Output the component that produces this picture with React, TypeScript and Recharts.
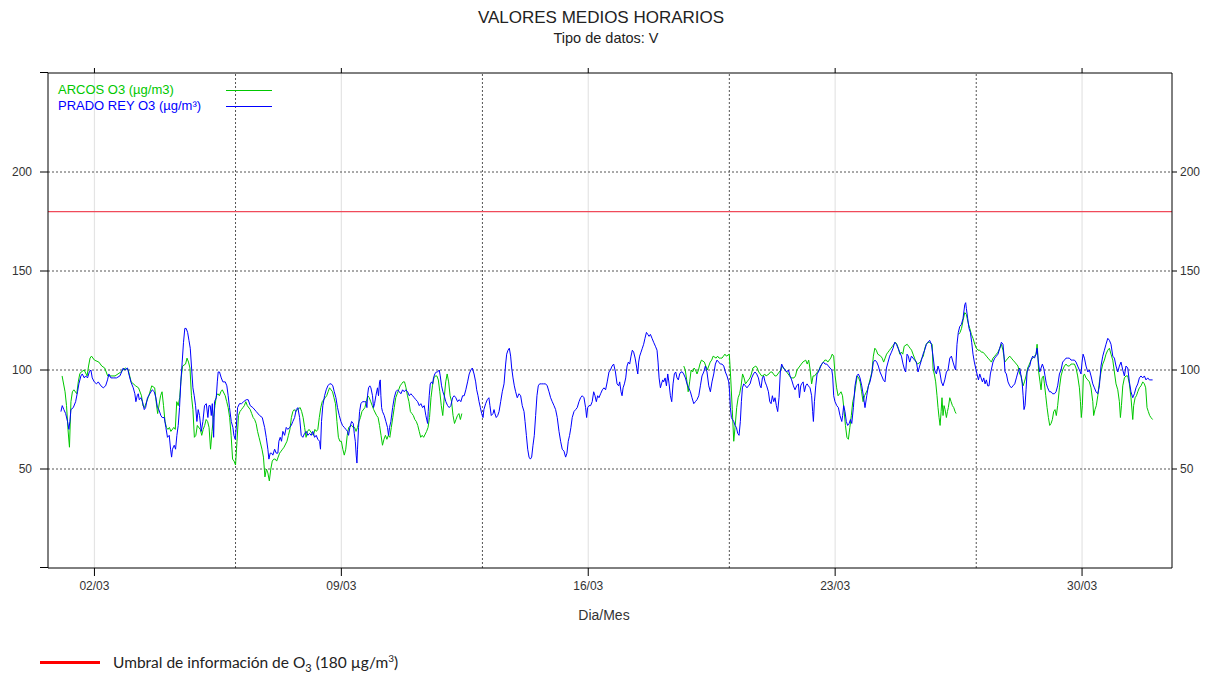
import { ComposedChart, Line, XAxis, YAxis, ReferenceLine } from 'recharts'

// x values are hours counted from 01/03 00:00
const dayTicks = [24, 192, 360, 528, 696]
const dayLabels = ['02/03', '09/03', '16/03', '23/03', '30/03']
const weekBreaks = [120, 288, 456, 624]
const levelTicks = [50, 100, 150, 200]
const infoThreshold = 180

// ARCOS O3 (µg/m3), null = no data
const arcosO3: [number, number | null][] = [
  [2,97],[4,89],[5,82],[6,70],[7,61],[8,84],[9,89],[10,90],[12,88],[13,94],[14,98],[15,99],[17,100],[19,97],[20,102],[21,106],[22,107],[24,105],[27,104],[29,102],[31,101],[33,97],[36,97],[38,97],[40,98],[42,99],[45,101],[47,100],[49,94],[52,92],[54,91],[56,87],[57,82],[58,81],[61,87],[63,92],[65,91],[66,84],[67,78],[69,87],[70,89],[71,82],[72,74],[73,71],[74,70],[75,71],[76,69],[78,71],[79,70],[80,84],[81,82],[82,86],[83,96],[84,102],[86,103],[87,106],[88,104],[89,101],[90,87],[91,80],[92,66],[93,67],[94,72],[96,70],[97,67],[98,70],[99,72],[100,75],[101,74],[102,71],[103,60],[104,69],[105,76],[106,82],[107,87],[108,88],[109,87],[110,89],[111,90],[113,87],[114,84],[115,81],[116,76],[117,67],[118,55],[119,54],[120,52],[121,64],[122,77],[123,79],[124,80],[125,81],[126,82],[127,84],[128,82],[130,80],[131,78],[132,76],[133,75],[134,73],[135,69],[136,66],[138,60],[139,56],[140,46],[141,50],[142,48],[143,44],[144,50],[145,54],[146,55],[147,55],[148,54],[149,56],[150,58],[151,59],[152,60],[153,61],[155,64],[156,67],[157,70],[158,76],[159,79],[160,80],[161,79],[162,80],[164,81],[165,79],[166,76],[167,71],[168,66],[169,69],[170,70],[172,68],[173,67],[174,70],[175,69],[176,70],[177,76],[178,81],[179,84],[181,86],[182,87],[183,89],[184,91],[185,90],[186,89],[187,86],[188,83],[189,74],[190,66],[191,64],[192,64],[193,60],[194,57],[195,60],[196,67],[197,71],[199,72],[200,71],[201,71],[202,69],[203,71],[204,74],[205,76],[206,79],[208,81],[209,84],[210,87],[211,86],[212,84],[213,82],[214,80],[216,77],[217,76],[218,72],[219,67],[220,62],[221,65],[222,67],[223,65],[224,67],[225,66],[226,71],[227,76],[228,81],[229,86],[230,88],[231,90],[232,92],[233,93],[234,94],[235,94],[236,91],[237,87],[238,84],[239,79],[240,78],[241,77],[242,75],[243,74],[244,72],[245,69],[246,66],[247,67],[248,66],[250,69],[251,71],[252,76],[253,86],[254,92],[255,96],[256,97],[257,97],[258,95],[259,89],[260,82],[261,77],[262,86],[263,94],[264,98],[265,94],[266,87],[267,84],[268,77],[269,73],[270,75],[271,77],[272,78],[273,75],[274,78],
  [275,null],
  [425,102],[426,100],[427,95],[428,89],[429,94],[430,100],[431,99],[432,101],[433,100],[434,98],[435,100],[436,103],[437,105],[439,104],[440,102],[441,100],[442,102],[443,104],[444,105],[445,107],[447,106],[448,107],[449,106],[450,106],[451,106],[452,107],[453,108],[454,107],[456,108],[457,95],[458,80],[459,64],[460,72],[461,81],[462,86],[463,88],[464,92],[465,98],[466,96],[467,93],[468,94],[469,95],[470,96],[471,98],[472,101],[474,102],[475,101],[476,99],[477,98],[478,97],[479,97],[480,98],[481,97],[483,98],[484,99],[485,99],[486,98],[487,97],[488,97],[489,98],[491,100],[492,102],[493,101],[494,100],[495,99],[496,98],[497,97],[498,96],[500,96],[501,97],[502,100],[503,101],[504,102],[505,103],[506,104],[508,105],[509,103],[510,105],[511,100],[512,93],[513,97],[514,97],[515,98],[516,99],[517,100],[518,102],[519,103],[520,104],[521,105],[522,105],[523,104],[525,106],[526,108],[527,107],[528,97],[529,91],[530,87],[531,88],[532,89],[533,87],[534,80],[535,72],[536,66],[537,65],[538,71],[539,77],[540,84],[541,87],[542,92],[543,97],[544,96],[545,94],[546,89],[547,84],[548,87],[550,90],[551,93],[552,96],[553,99],[554,107],[555,111],[556,110],[557,108],[559,107],[560,106],[561,104],[562,106],[563,108],[564,109],[565,110],[566,111],[567,112],[569,114],[570,113],[571,111],[572,108],[573,109],[574,108],[575,112],[577,113],[578,112],[579,111],[580,110],[581,108],[582,106],[583,104],[584,103],[586,104],[587,106],[588,107],[589,111],[590,113],[591,114],[592,114],[594,113],[594.6,101],[595.7,97],[596.4,94],[597.3,87],[598,81],[598.7,76],[599.4,72],[600.1,79],[600.7,86],[601.4,77],[602.1,82],[602.8,80],[603.7,76],[604.4,79],[605,81],[606,86],[606.9,84],[607.8,82],[608.7,81],[609.6,79],[610.3,78],
  [611,null],
  [612,118],[613,119],[614,121],[615,125],[616.2,129],[617.3,128],[618.4,124],[619.6,121],[620.7,118],[621.8,116],[623,113],[624.1,111],[625.2,110],[626.4,110],[627.5,109],[628.6,109],[629.8,108],[630.9,107],[632,106],[633.2,105],[634.3,104],[635.4,106],[636.6,107],[637.7,108],[638.8,109],[640,111],[641.1,113],[642.2,110],[643.4,104],[644.5,105],[645.6,106],[646.8,107],[647.9,106],[649,105],[650.2,104],[651.3,103],[652.4,102],[653.6,98],[654.6,97],[655.2,94],[655.9,92],[656.8,94],[657.9,97],[659,101],[660.2,103],[661.3,105],[662.4,106],[663.6,107],[664.7,108],[665.4,113],[665.8,109],[666.5,99],[667.4,94],[668.1,90],[668.8,96],[669.7,97],[670.4,93],[671.3,87],[672.2,81],[673.1,76],[674,72],[674.9,73],[675.8,75],[676.7,79],[677.6,80],[678.5,77],[679.4,82],[680.6,91],[681.7,97],[682.8,100],[684,102],[685.1,103],[686.2,102],[687.4,102],[688.5,103],[689.6,103],[690.8,103],[691.9,101],[693,97],[694.2,91],[694.9,84],[695.5,76],[696.2,82],[696.9,97],[697.6,98],[698.7,96],[699.9,95],[701,94],[702.1,91],[703.3,84],[703.9,77],[704.8,80],[705.7,82],[706.7,87],[707.8,94],[708.9,99],[710.1,103],[711.2,105],[712.3,108],[713.5,110],[714.6,111],[715.7,108],[716.9,105],[718,99],[719.1,93],[720.3,90],[721.4,84],[722.1,76],[722.8,82],[723.7,92],[724.8,96],[725.9,97],[727.1,97],[728.2,93],[729.3,86],[730.5,75],[731.1,82],[732.1,86],[733,87],[733.9,89],[735,91],[736.1,92],[737.3,94],[738.4,93],[739.3,91],[740.2,81],[741.1,79],[742,77],[742.9,76],[744,75],
]

// PRADO REY O3 (µg/m³)
const pradoReyO3: [number, number][] = [
  [1.2,79],[2.1,82],[3.2,80],[4.4,78],[5.7,74],[6.6,70],[7.3,74],[8,80],[9.6,81],[11.2,84],[12.5,89],[13.4,93],[14.8,97],[15.7,98],[17.1,96],[18,97],[19.3,96],[20.5,99],[21.6,100],[22.5,96],[23.9,94],[25.4,93],[26.6,94],[28.4,92],[30,91],[31.6,92],[32.9,95],[33.8,98],[35.2,96],[36.8,96],[39,96],[41.3,97],[42.5,99],[43.6,101],[44.7,100],[46.5,101],[47.4,98],[48.8,94],[50.4,91],[51.5,88],[52.2,84],[53.1,87],[53.8,88],[54.5,85],[55.6,86],[56.7,84],[57.9,80],[58.8,81],[60.1,86],[61.7,88],[63.3,90],[64.7,89],[65.8,86],[66.9,81],[67.8,80],[69.2,77],[70.1,76],[71.5,76],[72.6,71],[73.7,66],[74.9,67],[75.8,60],[76.5,56],[77.1,60],[78.3,62],[79.2,60],[80.1,67],[81,72],[81.9,81],[82.8,94],[83.7,104],[84.6,114],[85.5,121],[86.4,121],[87.4,119],[88.3,115],[89.2,111],[90.1,101],[91,91],[91.9,87],[92.8,82],[93.7,74],[94.6,80],[95.5,77],[96.7,69],[97.8,74],[98.9,82],[100.1,83],[101.2,76],[101.9,82],[102.8,82],[103.5,77],[104.2,83],[105.1,66],[105.7,84],[106.9,86],[107.6,94],[108.2,99],[109.1,99],[110.3,96],[111.4,94],[113,94],[114.1,92],[115,87],[115.9,81],[117.1,74],[118.2,71],[118.9,67],[119.8,65],[120.5,71],[121.4,81],[122.7,83],[124.1,83],[125.5,84],[127.3,85],[128.6,85],[130,82],[131.8,81],[134.1,79],[136.4,77],[138.2,76],[139.8,71],[140.9,66],[142,60],[142.7,55],[143.6,58],[144.5,58],[145.4,57],[146.6,60],[147.7,58],[148.8,58],[149.5,64],[150.4,66],[151.3,64],[152.2,69],[153.4,67],[154.5,71],[155.6,70],[156.8,71],[157.9,72],[159,74],[160.2,76],[161.3,80],[162.4,81],[163.6,76],[164.7,67],[165.8,66],[167,68],[168.1,69],[169.2,67],[170.4,68],[171.5,67],[172.6,69],[173.8,66],[174.9,67],[176,65],[177.2,64],[177.8,60],[178.5,74],[179.4,82],[180.6,87],[181.7,90],[182.8,92],[184,93],[185.1,93],[186.2,92],[187.2,89],[188.3,86],[189.4,81],[190.6,77],[191.7,74],[192.8,72],[194,71],[195.1,70],[196.2,69],[196.9,67],[197.8,71],[199,74],[200.1,73],[200.8,68],[201.5,64],[202.1,57],[202.6,53],[203,60],[203.7,71],[204.4,79],[205.3,83],[206.4,84],[207.6,84],[208.7,84],[209.4,81],[209.8,87],[210.5,91],[211.4,92],[212.1,91],[213.2,87],[213.9,81],[214.6,83],[215.5,87],[216.6,91],[217.3,87],[218,94],[218.5,95],[218.9,87],[219.4,81],[220,79],[221.2,77],[222.3,74],[223.4,71],[224.1,67],[224.8,71],[225.7,74],[226.9,81],[228,86],[229.1,89],[230.3,90],[231.4,89],[232.5,88],[233.7,90],[234.8,89],[235.9,90],[237.1,89],[238.2,87],[239.3,88],[240.5,87],[241.6,86],[242.7,85],[243.9,84],[245,82],[246.1,83],[247.3,81],[248.4,82],[249.5,77],[250.7,73],[251.1,79],[251.8,87],[252.5,93],[253.4,94],[254.1,93],[254.7,96],[255.6,98],[256.6,99],[257.5,99],[258.6,100],[259.3,97],[260.2,92],[261.1,89],[262,87],[263.1,84],[264.3,82],[265.4,81],[266.5,82],[267.7,86],[268.8,87],[269.9,86],[271.1,84],[272.2,85],[273.3,84],[274.5,87],[275.6,87],[276.7,90],[277.9,94],[279,98],[280.1,100],
  [281.1,101],[282.3,98],[283.4,94],[284.1,90],[285,87],[285.7,84],[286.6,81],[287.5,78],[288.4,76],[289,80],[290.2,83],[291.3,85],[292.4,86],[293.1,82],[294,77],[295.2,78],[295.9,80],[296.5,78],[297.4,76],[298.4,77],[299.3,79],[300.4,84],[301.5,89],[302.7,93],[303.8,103],[304.5,108],[305.4,110],[306.3,111],[307.2,107],[307.9,101],[308.8,96],[309.7,92],[310.6,89],[311.7,86],[312.9,88],[314,87],[315.1,82],[316.3,79],[317,74],[317.9,67],[318.8,60],[319.7,56],[320.6,55],[321.5,56],[322.4,62],[323.3,67],[324.2,77],[325.1,87],[326,92],[326.9,93],[328.3,93],[329.6,93],[331,93],[332.1,92],[333.3,89],[334.4,86],[335.5,84],[336.7,82],[337.8,80],[338.9,76],[340.1,69],[341.2,64],[342.3,60],[343.5,59],[344.6,56],[345.5,58],[346.4,64],[347.3,67],[348.2,71],[349.1,76],[350.3,79],[351.4,80],[352.5,81],[353.7,84],[354.8,86],[355.9,87],[357.1,86],[358.2,81],[358.9,76],[359.6,81],[360.5,82],[361.6,82],[362.7,84],[363.7,89],[364.6,87],[365.5,84],[366.4,87],[367.3,86],[368.4,88],[369.6,90],[370.7,91],[371.8,90],[372.9,94],[374.1,99],[375.1,100],[376.2,102],[377.3,103],[378.5,99],[379.6,93],[380.7,92],[381.4,94],[382.3,89],[383,87],[383.7,91],[384.6,93],[385.5,96],[386.4,102],[387.3,104],[388.2,103],[389.1,107],[390,110],[390.9,109],[391.9,106],[392.8,102],[393.7,98],[394.3,104],[395,107],[395.9,109],[396.8,111],[397.7,113],[398.6,116],[399.6,119],[400.5,118],[401.4,117],[402.3,118],[403.4,116],[404.5,114],[405.7,112],[406.8,110],[407.5,104],[408.2,96],[409.1,91],[409.8,93],[410.7,95],[411.3,94],[412.3,96],[413.2,92],[414.1,98],[415,93],[415.9,87],[416.8,84],[417.7,93],[418.6,98],[419.5,99],[420.4,96],[421.3,95],[422.2,98],[423.1,99],[424,99],[424.9,98],[426.1,96],[427.2,93],[428.4,91],[429.5,89],[430.6,86],[431.8,83],[432.9,84],[434,85],[435.2,87],[436.3,92],[437.4,97],[438.6,99],[439.7,102],[440.8,99],[442,92],[443.1,89],[444.2,94],[445.4,98],[446.5,103],[447.6,105],[448.8,104],[449.9,103],[451,103],[452.2,102],[453.3,99],[454.4,97],[455.6,94],[456.2,89],[456.7,81],[457.4,76],[458.1,75],[459,74],[459.9,72],[460.8,71],[461.7,68],[462.6,67],[463.5,74],[464.2,84],[464.9,91],[465.8,93],[466.9,92],[468,91],
  [469,92],[470.1,93],[471.2,96],[472.4,98],[473.5,99],[474.6,98],[475.8,96],[476.9,92],[477.6,91],[478.5,96],[479.4,97],[480.3,94],[481.4,92],[482.6,89],[483.5,84],[484.4,83],[485.3,87],[486.2,84],[487.1,86],[488,82],[488.9,79],[489.8,86],[490.7,99],[491.6,103],[492.8,101],[493.9,100],[495,99],[496.2,100],[497.3,97],[498.4,95],[499.6,92],[500.7,90],[501.8,92],[503,93],[503.7,86],[504.6,92],[505.2,93],[506.2,94],[507.1,89],[508,92],[508.9,93],[509.8,92],[510.9,91],[512,87],[512.7,79],[513.2,74],[513.9,84],[514.8,92],[515.7,98],[516.6,99],[517.7,101],[518.9,103],[520,104],[521.1,103],[522.3,103],[523.4,102],[524.5,101],[525.7,100],[526.3,97],[527,87],[527.9,84],[529.1,82],[530.2,81],[531.3,77],[532.5,74],[533.1,77],[533.8,82],[534.7,79],[535.6,74],[536.5,72],[537.5,73],[538.4,75],[539.3,73],[540.4,81],[541.5,92],[542.7,97],[543.8,98],[544.9,96],[546.1,92],[547.2,87],[548.3,81],[549.5,87],[550.6,92],[551.7,94],[552.9,98],[554,104],[555.1,105],[556.3,104],[557.4,102],[558.5,99],[559.7,97],[560.8,95],[561.9,94],
  [562.9,101],[564,104],[565.1,107],[566.3,109],[567.4,111],[568.5,114],[569.7,113],[570.8,111],[571.9,109],[573.1,107],[574.2,103],[575.3,100],[576,99],[576.9,108],[577.8,107],[578.7,104],[579.9,107],[581,106],[582.1,105],[583.3,104],[584.4,99],[585.5,102],[586.7,105],[587.8,108],[588.9,110],[590.1,113],[591.2,114],[592.3,115],[593.5,113],[594.6,107],[595.7,100],[596.9,98],[598,102],[599.2,99],[600.3,94],[601.4,92],[602.6,95],[603.7,99],[604.8,100],[606,106],[607.1,107],[608.2,104],[609.4,101],[610,100],[610.9,113],[611.8,119],[612.8,122],[613.9,123],[615,126],[616.2,133],[616.8,134],[617.3,131],[618.2,126],[619.1,121],[620,119],[620.9,114],[621.8,108],[622.7,104],[623.6,101],[624.5,98],[625.5,95],[626.4,98],[627.3,96],[628.2,94],[629.1,96],[630,93],[630.9,95],[631.8,92],[632.7,92],[633.6,98],[634.5,101],[635.4,104],[636.6,106],[637.7,107],[638.8,108],[640,111],[641.1,114],[642.2,113],[642.9,107],[643.6,99],[644.5,98],[645.6,94],[646.8,92],[647.9,91],[649,92],[650.2,93],[651.3,96],[652.4,99],[653.6,101],[654.7,96],
  [655.2,94],[655.9,87],[656.5,80],[657.2,82],[657.9,90],[658.6,99],[659.5,101],[660.4,102],[661.3,105],[662.4,107],[663.6,106],[664.7,108],[665.4,111],[666.3,104],[667.2,99],[668.1,101],[669,103],[669.9,101],[670.8,97],[671.7,93],[672.6,91],[673.8,89],[674.9,89],[676,88],[677.2,88],[678.3,89],[679.4,92],[680.6,98],[681.7,100],[682.8,104],[684,105],[685.1,106],[686.2,106],[687.4,106],[688.5,105],[689.6,105],[690.8,105],[691.9,104],[693,102],[694.2,100],[695.3,98],[696,104],[696.7,108],[697.6,106],[698.7,102],[699.9,99],[701,100],[702.1,97],[703.3,93],[704.4,91],[705.5,89],[706.7,88],[707.8,92],[708.9,102],[710.1,107],[711.2,110],[712.3,113],[713.5,116],[714.6,115],[715.7,113],[716.9,107],[718,106],[719.1,102],[720.3,99],[721.4,102],[722.5,104],[723.7,100],[724.8,97],[725.9,102],[727.1,101],[728.2,94],[729.3,89],[730.5,86],[731.6,88],[732.7,91],[733.9,93],[735,96],[736.1,97],[737.3,96],[738.4,97],[739.5,95],[740.7,96],[741.8,95],[742.9,95],[744,95],
]

const toRows = (pts: [number, number | null][]) => pts.map(([h, v]) => ({ h, v }))

const GREEN = '#00c800'
const BLUE = '#0000ff'
const FONT = '"Liberation Sans", Arial, sans-serif'
const X_DOMAIN: [number, number] = [-7.6, 757.2]
const Y_DOMAIN: [number, number] = [0, 250]
const tickStyle = { fontSize: 12, fill: '#333', fontFamily: FONT }

export default function App() {
  return (
    <div style={{ position: 'absolute', left: 0, top: 0, width: 1211, height: 680, background: '#fff', fontFamily: FONT }}>
      <div style={{ position: 'absolute', left: 0, width: 1202, top: 8, textAlign: 'center', fontSize: 17, color: '#222' }}>
        VALORES MEDIOS HORARIOS
      </div>
      <div style={{ position: 'absolute', left: 0, width: 1212, top: 30, textAlign: 'center', fontSize: 14.5, color: '#222' }}>
        Tipo de datos: V
      </div>

      <ComposedChart width={1211} height={680} margin={{ top: 68, right: 0, bottom: 82, left: 8 }}>
        <XAxis
          xAxisId="top"
          orientation="top"
          type="number"
          dataKey="h"
          domain={X_DOMAIN}
          allowDataOverflow
          ticks={dayTicks}
          tickFormatter={() => ''}
          height={5}
          tickSize={5}
          axisLine={{ stroke: '#000' }}
          tickLine={{ stroke: '#000' }}
        />
        <XAxis
          type="number"
          dataKey="h"
          domain={X_DOMAIN}
          allowDataOverflow
          ticks={dayTicks}
          tickFormatter={(v: number) => dayLabels[dayTicks.indexOf(v)] ?? ''}
          height={30}
          tickSize={8}
          tickMargin={5}
          tick={tickStyle}
          axisLine={{ stroke: '#000' }}
          tickLine={{ stroke: '#000' }}
        />
        <YAxis
          type="number"
          domain={Y_DOMAIN}
          allowDataOverflow
          ticks={levelTicks}
          width={40}
          tickSize={8}
          tickMargin={8}
          tick={tickStyle}
          axisLine={{ stroke: '#000' }}
          tickLine={{ stroke: '#000' }}
        />
        <YAxis
          yAxisId="right"
          orientation="right"
          type="number"
          domain={Y_DOMAIN}
          allowDataOverflow
          ticks={levelTicks}
          width={39}
          tickSize={5}
          tickMargin={3}
          tick={tickStyle}
          axisLine={{ stroke: '#000' }}
          tickLine={{ stroke: '#000' }}
        />

        {dayTicks.map(d => (
          <ReferenceLine key={`d${d}`} x={d} stroke="#e4e4e4" strokeWidth={1.2} />
        ))}
        {weekBreaks.map(d => (
          <ReferenceLine key={`w${d}`} x={d} stroke="#555" strokeDasharray="2 2" />
        ))}
        {levelTicks.map(v => (
          <ReferenceLine key={`l${v}`} y={v} stroke="#555" strokeDasharray="2 2" />
        ))}
        {/* keeps the right axis bound to the same scale */}
        <ReferenceLine yAxisId="right" y={infoThreshold} stroke="#f04a5a" strokeWidth={1.2} />

        <Line
          data={toRows(arcosO3)}
          dataKey="v"
          type="linear"
          stroke={GREEN}
          strokeWidth={1}
          dot={false}
          activeDot={false}
          isAnimationActive={false}
        />
        <Line
          data={toRows(pradoReyO3)}
          dataKey="v"
          type="linear"
          stroke={BLUE}
          strokeWidth={1}
          dot={false}
          activeDot={false}
          isAnimationActive={false}
        />
      </ComposedChart>

      {/* legend inside the plot */}
      <div style={{ position: 'absolute', left: 58, top: 82, fontSize: 13, color: GREEN }}>ARCOS O3 (µg/m3)</div>
      <div style={{ position: 'absolute', left: 226, top: 90, width: 46, height: 1, background: GREEN }} />
      <div style={{ position: 'absolute', left: 58, top: 98, fontSize: 13, color: BLUE }}>PRADO REY O3 (µg/m³)</div>
      <div style={{ position: 'absolute', left: 226, top: 106, width: 46, height: 1, background: BLUE }} />

      {/* small overhang of the frame's horizontal lines, as in the original */}
      <div style={{ position: 'absolute', left: 40, top: 567, width: 8, height: 1, background: '#000' }} />
      <div style={{ position: 'absolute', left: 40, top: 72, width: 8, height: 1, background: '#000' }} />

      <div style={{ position: 'absolute', left: 0, width: 1208, top: 607, textAlign: 'center', fontSize: 14, color: '#333' }}>
        Dia/Mes
      </div>

      <div style={{ position: 'absolute', left: 40, top: 661, width: 60, height: 3, background: '#ff0000' }} />
      <div style={{ position: 'absolute', left: 113, top: 652, fontSize: 15.5, color: '#222', fontFamily: 'Lato, "Noto Sans", sans-serif' }}>
        Umbral de información de O<sub style={{ fontSize: 11 }}>3</sub> (180 µg/m<sup style={{ fontSize: 10 }}>3</sup>)
      </div>
    </div>
  )
}
